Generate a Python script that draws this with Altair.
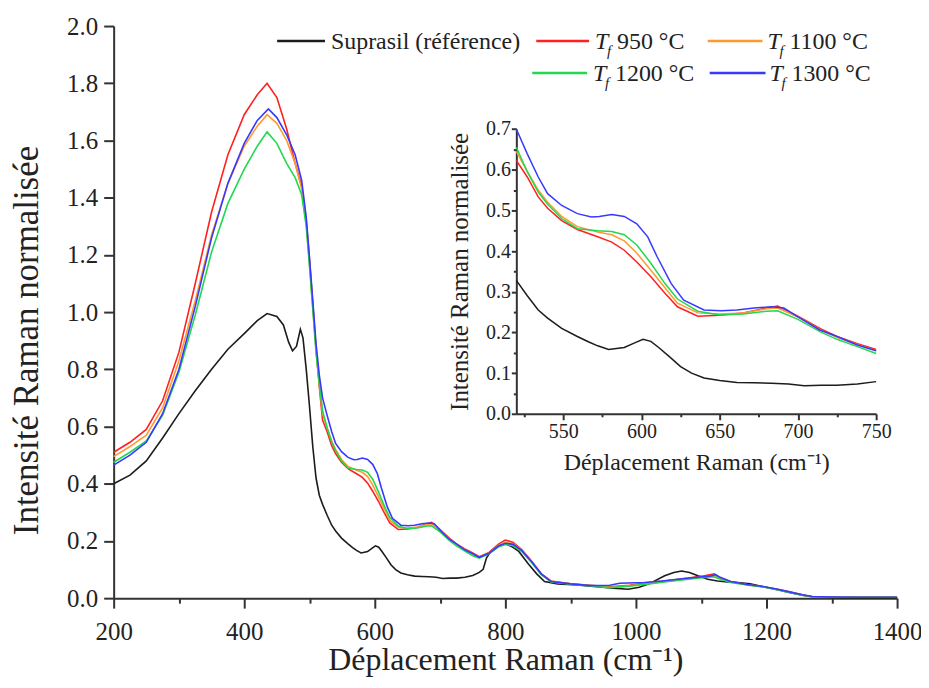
import altair as alt
import pandas as pd

FONT = "Liberation Serif"

# ---------------- data ----------------
sup_x = [200, 225, 250, 275, 300, 325, 350, 375, 400, 420, 435, 450, 460, 468, 474, 480, 486, 490, 495, 500,
         505, 510, 515, 520, 527, 534, 540, 549, 559, 566, 572, 579, 589, 596, 601, 606, 611, 618, 625, 632,
         640, 650, 661, 672, 683, 694, 704, 715, 725, 738, 750, 760, 766, 771, 778, 790, 800, 810, 820, 835,
         848, 860, 880, 910, 940, 965, 988, 1005, 1020, 1044, 1058, 1070, 1082, 1095, 1110, 1125, 1140, 1156,
         1175, 1195, 1215, 1235, 1255, 1270, 1290, 1320, 1360, 1400]
sup_y = [0.40, 0.43, 0.48, 0.56, 0.645, 0.725, 0.80, 0.87, 0.925, 0.97, 0.995, 0.985, 0.955, 0.895, 0.865, 0.88, 0.94, 0.91, 0.80, 0.67,
         0.53, 0.42, 0.36, 0.328, 0.29, 0.255, 0.235, 0.21, 0.19, 0.177, 0.167, 0.158, 0.163, 0.175, 0.183, 0.178, 0.163, 0.14, 0.116, 0.10,
         0.088, 0.082, 0.077, 0.076, 0.075, 0.073, 0.069, 0.07, 0.07, 0.073, 0.079, 0.09, 0.101, 0.14, 0.165, 0.185, 0.19, 0.18, 0.165, 0.12,
         0.085, 0.058, 0.05, 0.046, 0.04, 0.035, 0.031, 0.038, 0.05, 0.078, 0.09, 0.095, 0.09, 0.078, 0.066, 0.06, 0.057, 0.055,
         0.05, 0.04, 0.03, 0.02, 0.01, 0.005, 0.003, 0.002, 0.002, 0.002]

red_x = [200, 225, 250, 275, 300, 325, 350, 375, 400, 420, 435, 450, 465, 478, 488, 495, 500, 505, 510, 515,
         520, 527, 534, 540, 549, 559, 572, 581, 589, 597, 606, 615, 623, 636, 650, 665, 680, 687, 700, 715,
         725, 738, 750, 760, 775, 790, 800, 812, 825, 840, 855, 870, 900, 930, 960, 990, 1020, 1050, 1080, 1105,
         1120, 1125, 1145, 1170, 1195, 1215, 1235, 1255, 1270, 1300, 1350, 1400]
red_y = [0.51, 0.545, 0.59, 0.69, 0.86, 1.10, 1.35, 1.55, 1.69, 1.76, 1.80, 1.75, 1.64, 1.52, 1.44, 1.32, 1.18, 1.03, 0.87, 0.74,
         0.623, 0.582, 0.533, 0.505, 0.475, 0.453, 0.435, 0.422, 0.402, 0.373, 0.337, 0.296, 0.263, 0.24, 0.242, 0.248, 0.26, 0.265, 0.24, 0.208,
         0.19, 0.172, 0.158, 0.145, 0.16, 0.19, 0.203, 0.195, 0.17, 0.13, 0.085, 0.06, 0.05, 0.045, 0.04, 0.045, 0.055, 0.062, 0.07, 0.078,
         0.085, 0.075, 0.058, 0.048, 0.04, 0.032, 0.022, 0.012, 0.005, 0.003, 0.003, 0.003]

ora_x = red_x
ora_y = [0.495, 0.53, 0.57, 0.665, 0.83, 1.04, 1.27, 1.45, 1.58, 1.65, 1.69, 1.66, 1.60, 1.52, 1.43, 1.31, 1.17, 1.02, 0.87, 0.75,
         0.645, 0.595, 0.55, 0.52, 0.485, 0.46, 0.447, 0.44, 0.425, 0.395, 0.353, 0.31, 0.272, 0.248, 0.245, 0.248, 0.258, 0.26, 0.238, 0.205,
         0.188, 0.17, 0.155, 0.143, 0.158, 0.185, 0.195, 0.19, 0.168, 0.128, 0.083, 0.058, 0.05, 0.044, 0.038, 0.043, 0.052, 0.06, 0.068, 0.075,
         0.08, 0.074, 0.057, 0.047, 0.04, 0.031, 0.021, 0.011, 0.005, 0.003, 0.003, 0.003]

gre_x = red_x
gre_y = [0.475, 0.51, 0.55, 0.64, 0.79, 0.99, 1.21, 1.38, 1.50, 1.58, 1.63, 1.59, 1.52, 1.47, 1.41, 1.30, 1.16, 1.01, 0.86, 0.75,
         0.655, 0.595, 0.545, 0.515, 0.48, 0.455, 0.45, 0.448, 0.44, 0.415, 0.37, 0.32, 0.282, 0.252, 0.243, 0.245, 0.252, 0.253, 0.232, 0.20,
         0.183, 0.165, 0.148, 0.14, 0.155, 0.18, 0.188, 0.183, 0.163, 0.125, 0.082, 0.057, 0.049, 0.043, 0.037, 0.042, 0.05, 0.058, 0.066, 0.072,
         0.075, 0.07, 0.055, 0.046, 0.039, 0.03, 0.02, 0.01, 0.005, 0.003, 0.003, 0.003]

blu_x = [200, 225, 250, 275, 300, 325, 350, 375, 400, 420, 437, 450, 465, 478, 488, 495, 500, 505, 510, 515,
         520, 527, 534, 540, 549, 559, 568, 573, 581, 589, 597, 604, 610, 619, 627, 640, 651, 661, 672, 683,
         691, 700, 714, 725, 738, 750, 760, 775, 790, 800, 812, 825, 840, 855, 870, 900, 930, 960, 975, 1013,
         1040, 1064, 1090, 1115, 1122, 1128, 1145, 1170, 1195, 1215, 1235, 1255, 1270, 1300, 1350, 1400]
blu_y = [0.465, 0.50, 0.545, 0.645, 0.80, 1.02, 1.26, 1.45, 1.59, 1.67, 1.71, 1.68, 1.62, 1.55, 1.46, 1.33, 1.19, 1.04, 0.89, 0.78,
         0.70, 0.639, 0.582, 0.541, 0.512, 0.492, 0.484, 0.485, 0.49, 0.485, 0.467, 0.435, 0.386, 0.32, 0.279, 0.255, 0.253, 0.255, 0.26, 0.263,
         0.26, 0.238, 0.206, 0.19, 0.169, 0.155, 0.143, 0.157, 0.183, 0.192, 0.188, 0.167, 0.128, 0.085, 0.058, 0.05, 0.044, 0.045, 0.052, 0.055,
         0.06, 0.066, 0.072, 0.078, 0.082, 0.074, 0.058, 0.048, 0.041, 0.032, 0.022, 0.012, 0.006, 0.004, 0.003, 0.003]

series_names = ["Suprasil (référence)", "Tf 950 °C", "Tf 1100 °C", "Tf 1200 °C", "Tf 1300 °C"]
series_colors = ["#1c1c1c", "#ff2020", "#ff9a30", "#22d84e", "#3838ff"]
legend_values = ["950 °C", "1100 °C", "1200 °C", "1300 °C"]

main_x_ticks = list(range(200, 1401, 100))
main_y_ticks = [round(i * 0.2, 1) for i in range(11)]
inset_x_ticks = list(range(525, 751, 25))
inset_y_ticks = [round(i * 0.05, 2) for i in range(15)]

# ---------------- build table ----------------
frames = []
for name, xs, ys in zip(series_names,
                        [sup_x, red_x, ora_x, gre_x, blu_x],
                        [sup_y, red_y, ora_y, gre_y, blu_y]):
    frames.append(pd.DataFrame({"x": xs, "y": ys, "series": name}))
df = pd.concat(frames, ignore_index=True)

# ---------------- layout (pixels, relative to the main plot area) ----------------
W, H = 786, 574
INS_X0, INS_X1 = 404, 765
INS_Y0, INS_Y1 = 389, 103.3

color = alt.Color("series:N", scale=alt.Scale(domain=series_names, range=series_colors), legend=None)

axis_common = dict(grid=False, domainColor="#333333", domainWidth=2, tickColor="#333333", tickWidth=2,
                   labelFont=FONT, titleFont=FONT, labelColor="#222222", titleColor="#222222",
                   titleFontWeight="normal", labelOverlap=False, labelFlush=False)

main = alt.Chart(df).mark_line(strokeWidth=1.6).encode(
    x=alt.X("x:Q",
            scale=alt.Scale(domain=[200, 1400], nice=False, zero=False),
            axis=alt.Axis(values=main_x_ticks, format="d", title="Déplacement Raman (cm⁻¹)",
                          labelExpr="datum.value % 200 == 0 ? datum.label : ''",
                          tickSize={"condition": {"test": "datum.value % 200 == 0", "value": 10}, "value": 5},
                          labelFontSize=25, titleFontSize=32, labelPadding=11,
                          titleX=W / 2, titleY=72, titleBaseline="alphabetic", orient="bottom",
                          **axis_common)),
    y=alt.Y("y:Q",
            scale=alt.Scale(domain=[0, 2], nice=False),
            axis=alt.Axis(values=main_y_ticks, format=".1f", title="Intensité Raman normalisée",
                          tickSize=10, labelFontSize=25, titleFontSize=35, labelPadding=6,
                          titleX=-87, titleY=315, titleBaseline="middle", titleAngle=-90, orient="left",
                          **axis_common)),
    color=color,
)

inset = alt.Chart(df).transform_filter("datum.x >= 520 && datum.x <= 750").mark_line(strokeWidth=1.5).encode(
    x=alt.X("x:Q",
            scale=alt.Scale(domain=[520, 750], range=[INS_X0, INS_X1], nice=False, zero=False),
            axis=alt.Axis(values=inset_x_ticks, format="d", title="Déplacement Raman (cm⁻¹)", orient="bottom",
                          offset=-(H - INS_Y0),
                          labelExpr="datum.value % 50 == 0 ? datum.label : ''",
                          tickSize={"condition": {"test": "datum.value % 50 == 0", "value": 6}, "value": 3},
                          labelFontSize=20, titleFontSize=24, labelPadding=2,
                          titleX=(INS_X0 + INS_X1) / 2, titleY=56, titleBaseline="alphabetic",
                          **axis_common)),
    y=alt.Y("y:Q",
            scale=alt.Scale(domain=[0, 0.7], range=[INS_Y0, INS_Y1], nice=False),
            axis=alt.Axis(values=inset_y_ticks, title="Intensité Raman normalisée", orient="left",
                          offset=-INS_X0,
                          labelExpr="round(datum.value * 20) % 2 == 0 ? format(datum.value, '.1f') : ''",
                          tickSize={"condition": {"test": "round(datum.value * 20) % 2 == 0", "value": 5}, "value": 3},
                          labelFontSize=20, titleFontSize=25, labelPadding=1,
                          titleX=-57, titleY=(INS_Y0 + INS_Y1) / 2, titleBaseline="middle", titleAngle=-90,
                          **axis_common)),
    color=color,
)

# ---------------- manual legend ----------------
one = alt.Data(values=[{"k": 0}])
ROW1, ROW2 = 15, 47
LEG_FS = 24
legend_items = [
    # (line x1, line x2, row y, text x, series index)
    (164, 212, ROW1, 218, 0),
    (424, 477, ROW1, 483, 1),
    (596, 651, ROW1, 656, 2),
    (420, 475, ROW2, 481, 3),
    (598, 654, ROW2, 658, 4),
]
legend_layers = []
for x1, x2, ry, tx, i in legend_items:
    legend_layers.append(
        alt.Chart(one).mark_rule(strokeWidth=2.5, color=series_colors[i]).encode(
            x=alt.value(x1), x2=alt.value(x2), y=alt.value(ry)))
    if i == 0:
        legend_layers.append(
            alt.Chart(one).mark_text(font=FONT, fontSize=LEG_FS, align="left", baseline="middle", color="#222222").encode(
                x=alt.value(tx), y=alt.value(ry + 1), text=alt.value(series_names[0])))
    else:
        legend_layers.append(
            alt.Chart(one).mark_text(font=FONT, fontSize=LEG_FS, fontStyle="italic", align="left", baseline="middle",
                                     color="#222222").encode(
                x=alt.value(tx), y=alt.value(ry + 1), text=alt.value("T")))
        legend_layers.append(
            alt.Chart(one).mark_text(font=FONT, fontSize=15, fontStyle="italic", align="left", baseline="middle",
                                     color="#222222").encode(
                x=alt.value(tx + 12), y=alt.value(ry + 10), text=alt.value("f")))
        legend_layers.append(
            alt.Chart(one).mark_text(font=FONT, fontSize=LEG_FS, align="left", baseline="middle", color="#222222").encode(
                x=alt.value(tx + 22), y=alt.value(ry + 1), text=alt.value(legend_values[i - 1])))

chart = alt.layer(main, inset, *legend_layers).resolve_scale(
    x="independent", y="independent"
).properties(
    width=W, height=H,
    autosize=alt.AutoSizeParams(type="none"),
    padding={"left": 106, "top": 17, "right": 24, "bottom": 81},
    background="white",
).configure(font=FONT).configure_view(stroke=None)

chart.save("out.html", embed_options={"renderer": "svg", "actions": False})
